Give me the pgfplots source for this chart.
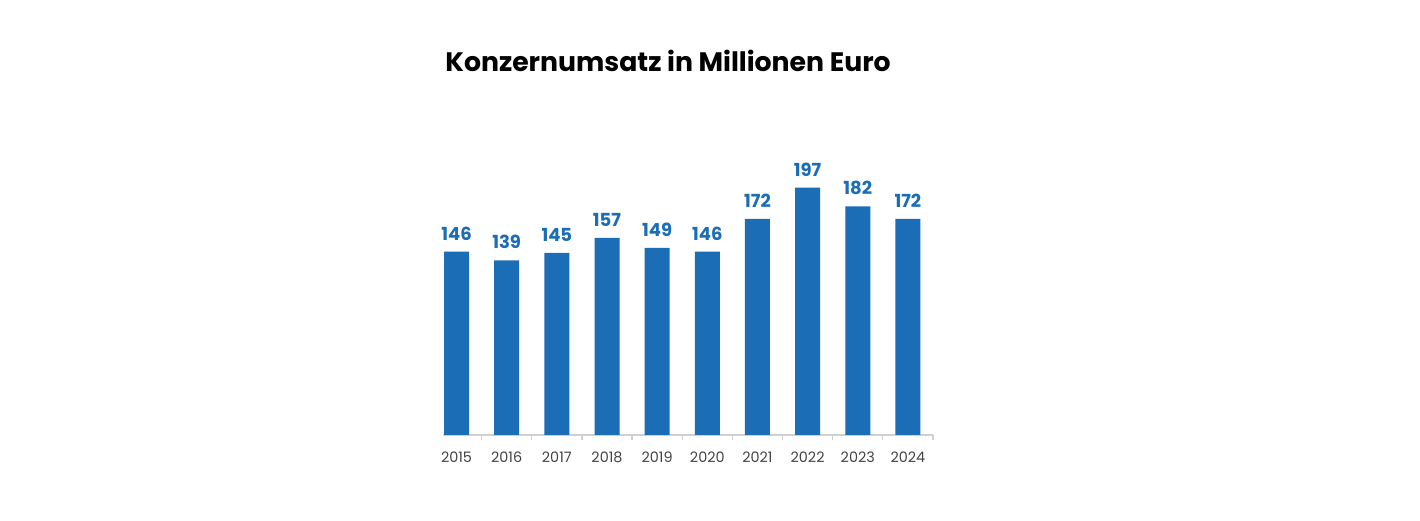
\documentclass[border=0pt]{standalone}
\usepackage{fontspec}
\setmainfont{Poppins}
\usepackage{pgfplots}
\pgfplotsset{compat=1.18}
\definecolor{barblue}{HTML}{1B6DB5}
\definecolor{ticktext}{HTML}{444444}
\definecolor{axisgray}{HTML}{D0D0D0}
\begin{document}
\begin{tikzpicture}
% canvas 1420x520 px at 0.5pt per px
\path[fill=white] (0pt,0pt) rectangle (710pt,260pt);
\node[anchor=base west, inner sep=0pt, font=\fontsize{13.35}{15}\selectfont\bfseries] at (222.5pt,224.15pt) {Konzernumsatz in Millionen Euro};
\begin{axis}[
    at={(221.5pt,42.5pt)}, anchor=south west,
    scale only axis,
    width=245pt, height=125.6pt,
    xmin=-0.27, xmax=9.5,
    ymin=0, ymax=200,
    axis x line*=bottom,
    axis y line=none,
    x axis line style={draw=axisgray, line width=0.6pt},
    xtick={0,...,9},
    xticklabels={2015,2016,2017,2018,2019,2020,2021,2022,2023,2024},
    major x tick style={draw=none},
    minor xtick={0.5,1.5,...,9.5},
    minor x tick style={draw=axisgray, line width=0.6pt},
    minor tick length=2.5pt,
    tick align=outside,
    xticklabel style={font=\fontsize{7.2}{8.5}\selectfont, text=ticktext, yshift=-0.5pt},
    /pgf/number format/assume math mode=true,
    ybar, bar width=12.5pt,
    nodes near coords,
    every node near coord/.append style={font=\fontsize{9}{11}\selectfont\bfseries, text=barblue, inner sep=0pt, anchor=south, yshift=5.5pt},
    clip=false,
]
\addplot[fill=barblue, draw=none] coordinates {
(0,146) (1,139) (2,145) (3,157) (4,149) (5,146) (6,172) (7,197) (8,182) (9,172)
};
\end{axis}
\end{tikzpicture}
\end{document}
